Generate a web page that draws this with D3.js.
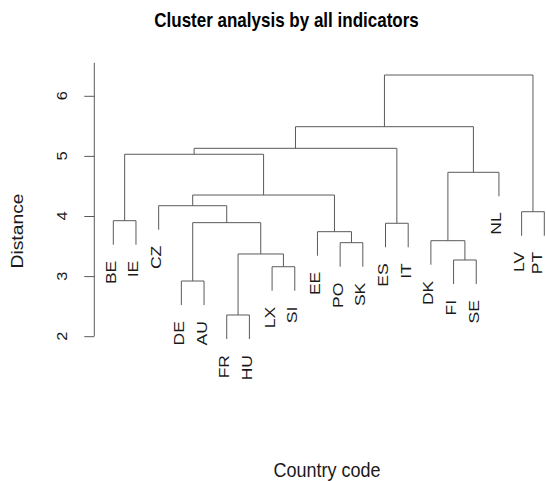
<!DOCTYPE html>
<html>
<head>
<meta charset="utf-8">
<script src="https://cdn.jsdelivr.net/npm/d3@7"></script>
<style>
  html, body { margin: 0; padding: 0; background: #fff; }
  svg { display: block; font-family: "Liberation Sans", Arial, Helvetica, sans-serif; }
</style>
</head>
<body>
<svg id="chart" width="546" height="481"></svg>
<script>
// ---- data ----
const leafLabels = ["BE","IE","CZ","DE","AU","FR","HU","LX","SI","EE","PO","SK","ES","IT","DK","FI","SE","NL","LV","PT"];
// merge steps (R hclust style): negative = leaf (1-based), positive = earlier merge step
const mergeLeft  = [-6, -4, -8, -16,  1, -11, -15, -10, -13,  2, -1, -19, -3, 13, 7, 11, 16, 17, 18];
const mergeRight = [-7, -5, -9, -17,  3, -12,   4,   6, -14,  5, -2, -20, 10,  8, -18, 14, 9, 15, 12];
const mergeHeight = [2.353, 2.918, 3.156, 3.268, 3.368, 3.556, 3.589, 3.739, 3.879, 3.889,
                     3.922, 4.071, 4.171, 4.349, 4.727, 5.027, 5.126, 5.486, 6.346];
const yTicks = [2, 3, 4, 5, 6];
const titleText = "Cluster analysis by all indicators";
const xTitle = "Country code";
const yTitle = "Distance";

// ---- layout ----
const svg = d3.select("#chart");
const SY = 1.17; // vertical text stretch seen in reference
const lineColor = "#5a5a5a";

const x = d3.scaleLinear().domain([1, leafLabels.length]).range([113.3, 544.3]);
const y = d3.scaleLinear().domain([2, 6]).range([336.2, 95.8]);

const hang = 0.1 * (d3.max(mergeHeight) - d3.min(mergeHeight));

// leaf positions in order
const leafPos = leafLabels.map((d, i) => i + 1);
const nodeX = [];
function childX(c) { return c < 0 ? leafPos[-c - 1] : nodeX[c - 1]; }
function childH(c, parentH) { return c < 0 ? parentH - hang : mergeHeight[c - 1]; }

const segs = [];
const leafBottoms = new Array(leafLabels.length);
mergeHeight.forEach((h, k) => {
  const l = mergeLeft[k], r = mergeRight[k];
  const xl = childX(l), xr = childX(r);
  nodeX[k] = (xl + xr) / 2;
  const hl = childH(l, h), hr = childH(r, h);
  if (l < 0) leafBottoms[-l - 1] = hl;
  if (r < 0) leafBottoms[-r - 1] = hr;
  segs.push([[xl, hl], [xl, h], [xr, h], [xr, hr]]);
});

const line = d3.line().x(d => x(d[0])).y(d => y(d[1]));
svg.append("g").selectAll("path").data(segs).join("path")
  .attr("d", line)
  .attr("fill", "none")
  .attr("stroke", lineColor)
  .attr("stroke-width", 1);

// leaf labels
svg.append("g").selectAll("g").data(leafLabels).join("g")
  .attr("transform", (d, i) => `translate(${Math.min(x(leafPos[i]) + 2.5, 541.5)},${y(leafBottoms[i]) + 16}) scale(1,${SY})`)
  .append("text")
  .attr("transform", "rotate(-90)")
  .attr("text-anchor", "end")
  .attr("font-size", 15)
  .attr("fill", "#1a1a1a")
  .text(d => d);

// y axis
const axisX = 94.3;
const ax = svg.append("g").attr("transform", `translate(${axisX},0)`);
ax.call(d3.axisLeft(y).tickValues(yTicks).tickSize(10).tickSizeOuter(0).tickFormat(""));
ax.select(".domain").remove();
ax.selectAll(".tick line").attr("stroke", lineColor);
ax.append("line")
  .attr("x1", 0).attr("x2", 0)
  .attr("y1", y(2)).attr("y2", y(6.55))
  .attr("stroke", lineColor);

svg.append("g").selectAll("g").data(yTicks).join("g")
  .attr("transform", d => `translate(66.7,${y(d)}) scale(1,${SY})`)
  .append("text")
  .attr("transform", "rotate(-90)")
  .attr("text-anchor", "middle")
  .attr("font-size", 14)
  .attr("fill", "#1a1a1a")
  .text(d => d);

// titles
svg.append("g").attr("transform", `translate(286.5,26.7) scale(1,${SY})`)
  .append("text")
  .attr("text-anchor", "middle")
  .attr("font-size", 17)
  .attr("font-weight", "bold")
  .attr("fill", "#000")
  .text(titleText);

svg.append("g").attr("transform", `translate(327,476.7) scale(1,${SY})`)
  .append("text")
  .attr("text-anchor", "middle")
  .attr("font-size", 18)
  .attr("fill", "#1a1a1a")
  .text(xTitle);

svg.append("g").attr("transform", `translate(23.3,231) scale(1,${SY})`)
  .append("text")
  .attr("transform", "rotate(-90)")
  .attr("text-anchor", "middle")
  .attr("font-size", 16.5)
  .attr("fill", "#1a1a1a")
  .text(yTitle);
</script>
</body>
</html>
